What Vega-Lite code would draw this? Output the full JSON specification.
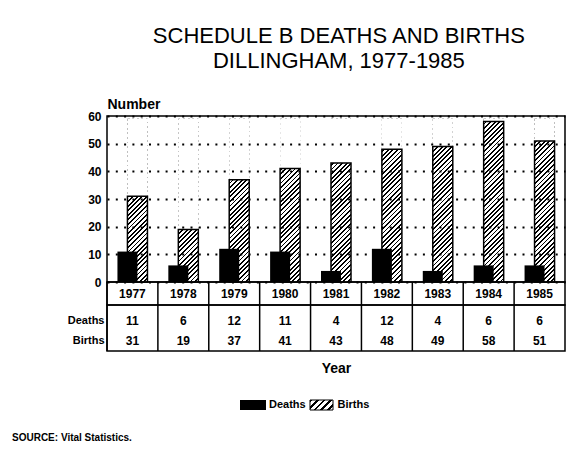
{
  "$schema": "https://vega.github.io/schema/vega-lite/v6.json",
  "padding": {"left": 12, "top": 25, "right": 5, "bottom": 5},
  "background": "white",
  "title": {
    "text": ["SCHEDULE B DEATHS AND BIRTHS", "DILLINGHAM, 1977-1985"],
    "fontSize": 22,
    "fontWeight": "normal",
    "lineHeight": 25,
    "offset": 23,
    "anchor": "middle",
    "dx": 50,
    "color": "black",
    "font": "Liberation Sans"
  },
  "datasets": {
    "main": [
      {"year": "1977", "deaths": 11, "births": 31},
      {"year": "1978", "deaths": 6, "births": 19},
      {"year": "1979", "deaths": 12, "births": 37},
      {"year": "1980", "deaths": 11, "births": 41},
      {"year": "1981", "deaths": 4, "births": 43},
      {"year": "1982", "deaths": 12, "births": 48},
      {"year": "1983", "deaths": 4, "births": 49},
      {"year": "1984", "deaths": 6, "births": 58},
      {"year": "1985", "deaths": 6, "births": 51}
    ],
    "legend": [
      {"series": "Deaths"},
      {"series": "Births"}
    ]
  },
  "spacing": 23,
  "vconcat": [
    {
      "spacing": 0,
      "bounds": "flush",
      "vconcat": [
        {
          "width": 458,
          "height": 166,
          "data": {"name": "main"},
          "encoding": {
            "x": {"field": "year", "type": "ordinal", "scale": {"paddingInner": 0, "paddingOuter": 0}, "axis": null}
          },
          "layer": [
            {
              "mark": {
                "type": "bar", "width": 20, "xOffset": 5, "strokeWidth": 0,
                "fill": {
                  "gradient": "linear", "x1": 0, "y1": 0, "x2": 0.13547, "y2": 1.1058,
                  "stops": [
                    {"offset":0,"color":"#000"},{"offset":0.01,"color":"#000"},{"offset":0.01,"color":"#fff"},{"offset":0.025,"color":"#fff"},
                    {"offset":0.025,"color":"#000"},{"offset":0.035,"color":"#000"},{"offset":0.035,"color":"#fff"},{"offset":0.05,"color":"#fff"},
                    {"offset":0.05,"color":"#000"},{"offset":0.06,"color":"#000"},{"offset":0.06,"color":"#fff"},{"offset":0.075,"color":"#fff"},
                    {"offset":0.075,"color":"#000"},{"offset":0.085,"color":"#000"},{"offset":0.085,"color":"#fff"},{"offset":0.1,"color":"#fff"},
                    {"offset":0.1,"color":"#000"},{"offset":0.11,"color":"#000"},{"offset":0.11,"color":"#fff"},{"offset":0.125,"color":"#fff"},
                    {"offset":0.125,"color":"#000"},{"offset":0.135,"color":"#000"},{"offset":0.135,"color":"#fff"},{"offset":0.15,"color":"#fff"},
                    {"offset":0.15,"color":"#000"},{"offset":0.16,"color":"#000"},{"offset":0.16,"color":"#fff"},{"offset":0.175,"color":"#fff"},
                    {"offset":0.175,"color":"#000"},{"offset":0.185,"color":"#000"},{"offset":0.185,"color":"#fff"},{"offset":0.2,"color":"#fff"},
                    {"offset":0.2,"color":"#000"},{"offset":0.21,"color":"#000"},{"offset":0.21,"color":"#fff"},{"offset":0.225,"color":"#fff"},
                    {"offset":0.225,"color":"#000"},{"offset":0.235,"color":"#000"},{"offset":0.235,"color":"#fff"},{"offset":0.25,"color":"#fff"},
                    {"offset":0.25,"color":"#000"},{"offset":0.26,"color":"#000"},{"offset":0.26,"color":"#fff"},{"offset":0.275,"color":"#fff"},
                    {"offset":0.275,"color":"#000"},{"offset":0.285,"color":"#000"},{"offset":0.285,"color":"#fff"},{"offset":0.3,"color":"#fff"},
                    {"offset":0.3,"color":"#000"},{"offset":0.31,"color":"#000"},{"offset":0.31,"color":"#fff"},{"offset":0.325,"color":"#fff"},
                    {"offset":0.325,"color":"#000"},{"offset":0.335,"color":"#000"},{"offset":0.335,"color":"#fff"},{"offset":0.35,"color":"#fff"},
                    {"offset":0.35,"color":"#000"},{"offset":0.36,"color":"#000"},{"offset":0.36,"color":"#fff"},{"offset":0.375,"color":"#fff"},
                    {"offset":0.375,"color":"#000"},{"offset":0.385,"color":"#000"},{"offset":0.385,"color":"#fff"},{"offset":0.4,"color":"#fff"},
                    {"offset":0.4,"color":"#000"},{"offset":0.41,"color":"#000"},{"offset":0.41,"color":"#fff"},{"offset":0.425,"color":"#fff"},
                    {"offset":0.425,"color":"#000"},{"offset":0.435,"color":"#000"},{"offset":0.435,"color":"#fff"},{"offset":0.45,"color":"#fff"},
                    {"offset":0.45,"color":"#000"},{"offset":0.46,"color":"#000"},{"offset":0.46,"color":"#fff"},{"offset":0.475,"color":"#fff"},
                    {"offset":0.475,"color":"#000"},{"offset":0.485,"color":"#000"},{"offset":0.485,"color":"#fff"},{"offset":0.5,"color":"#fff"},
                    {"offset":0.5,"color":"#000"},{"offset":0.51,"color":"#000"},{"offset":0.51,"color":"#fff"},{"offset":0.525,"color":"#fff"},
                    {"offset":0.525,"color":"#000"},{"offset":0.535,"color":"#000"},{"offset":0.535,"color":"#fff"},{"offset":0.55,"color":"#fff"},
                    {"offset":0.55,"color":"#000"},{"offset":0.56,"color":"#000"},{"offset":0.56,"color":"#fff"},{"offset":0.575,"color":"#fff"},
                    {"offset":0.575,"color":"#000"},{"offset":0.585,"color":"#000"},{"offset":0.585,"color":"#fff"},{"offset":0.6,"color":"#fff"},
                    {"offset":0.6,"color":"#000"},{"offset":0.61,"color":"#000"},{"offset":0.61,"color":"#fff"},{"offset":0.625,"color":"#fff"},
                    {"offset":0.625,"color":"#000"},{"offset":0.635,"color":"#000"},{"offset":0.635,"color":"#fff"},{"offset":0.65,"color":"#fff"},
                    {"offset":0.65,"color":"#000"},{"offset":0.66,"color":"#000"},{"offset":0.66,"color":"#fff"},{"offset":0.675,"color":"#fff"},
                    {"offset":0.675,"color":"#000"},{"offset":0.685,"color":"#000"},{"offset":0.685,"color":"#fff"},{"offset":0.7,"color":"#fff"},
                    {"offset":0.7,"color":"#000"},{"offset":0.71,"color":"#000"},{"offset":0.71,"color":"#fff"},{"offset":0.725,"color":"#fff"},
                    {"offset":0.725,"color":"#000"},{"offset":0.735,"color":"#000"},{"offset":0.735,"color":"#fff"},{"offset":0.75,"color":"#fff"},
                    {"offset":0.75,"color":"#000"},{"offset":0.76,"color":"#000"},{"offset":0.76,"color":"#fff"},{"offset":0.775,"color":"#fff"},
                    {"offset":0.775,"color":"#000"},{"offset":0.785,"color":"#000"},{"offset":0.785,"color":"#fff"},{"offset":0.8,"color":"#fff"},
                    {"offset":0.8,"color":"#000"},{"offset":0.81,"color":"#000"},{"offset":0.81,"color":"#fff"},{"offset":0.825,"color":"#fff"},
                    {"offset":0.825,"color":"#000"},{"offset":0.835,"color":"#000"},{"offset":0.835,"color":"#fff"},{"offset":0.85,"color":"#fff"},
                    {"offset":0.85,"color":"#000"},{"offset":0.86,"color":"#000"},{"offset":0.86,"color":"#fff"},{"offset":0.875,"color":"#fff"},
                    {"offset":0.875,"color":"#000"},{"offset":0.885,"color":"#000"},{"offset":0.885,"color":"#fff"},{"offset":0.9,"color":"#fff"},
                    {"offset":0.9,"color":"#000"},{"offset":0.91,"color":"#000"},{"offset":0.91,"color":"#fff"},{"offset":0.925,"color":"#fff"},
                    {"offset":0.925,"color":"#000"},{"offset":0.935,"color":"#000"},{"offset":0.935,"color":"#fff"},{"offset":0.95,"color":"#fff"},
                    {"offset":0.95,"color":"#000"},{"offset":0.96,"color":"#000"},{"offset":0.96,"color":"#fff"},{"offset":0.975,"color":"#fff"},
                    {"offset":0.975,"color":"#000"},{"offset":0.985,"color":"#000"},{"offset":0.985,"color":"#fff"},{"offset":1,"color":"#fff"}
                  ]
                }
              },
              "encoding": {
                "y": {
                  "datum": 0, "type": "quantitative", "title": "Number",
                  "scale": {"domain": [0, 60], "nice": false, "zero": true},
                  "axis": {
                    "values": [0, 10, 20, 30, 40, 50, 60], "tickCount": 7, "labelOverlap": false,
                    "grid": true, "gridColor": "black", "gridDash": [2, 6.3], "gridWidth": 2,
                    "ticks": false, "domain": false,
                    "labelFontSize": 12, "labelFontWeight": "bold", "labelPadding": 6, "labelColor": "black",
                    "titleAngle": 0, "titleAlign": "left", "titleX": 0, "titleY": -8, "titleBaseline": "alphabetic",
                    "titleFontSize": 14, "titleFontWeight": "bold", "titleColor": "black",
                    "zindex": 1
                  }
                },
                "y2": {"datum": 59}
              }
            },
            {
              "mark": {"type": "bar", "width": 20, "xOffset": 5, "fill": "white", "strokeWidth": 0},
              "encoding": {
                "y": {
                  "field": "births", "type": "quantitative", "title": "Number",
                  "axis": {
                    "values": [0, 10, 20, 30, 40, 50, 60], "tickCount": 7, "labelOverlap": false,
                    "grid": true, "gridColor": "black", "gridDash": [2, 6.3], "gridWidth": 2,
                    "ticks": false, "domain": false,
                    "labelFontSize": 12, "labelFontWeight": "bold", "labelPadding": 6, "labelColor": "black",
                    "titleAngle": 0, "titleAlign": "left", "titleX": 0, "titleY": -8, "titleBaseline": "alphabetic",
                    "titleFontSize": 14, "titleFontWeight": "bold", "titleColor": "black",
                    "zindex": 1
                  }
                },
                "y2": {"datum": 59}
              }
            },
            {
              "mark": {"type": "bar", "width": 20, "xOffset": 5, "filled": false, "color": "black", "strokeWidth": 1.5},
              "encoding": {
                "y": {
                  "field": "births", "type": "quantitative", "title": "Number",
                  "axis": {
                    "values": [0, 10, 20, 30, 40, 50, 60], "tickCount": 7, "labelOverlap": false,
                    "grid": true, "gridColor": "black", "gridDash": [2, 6.3], "gridWidth": 2,
                    "ticks": false, "domain": false,
                    "labelFontSize": 12, "labelFontWeight": "bold", "labelPadding": 6, "labelColor": "black",
                    "titleAngle": 0, "titleAlign": "left", "titleX": 0, "titleY": -8, "titleBaseline": "alphabetic",
                    "titleFontSize": 14, "titleFontWeight": "bold", "titleColor": "black",
                    "zindex": 1
                  }
                }
              }
            },
            {
              "mark": {"type": "bar", "width": 20, "xOffset": -5, "color": "black"},
              "encoding": {
                "y": {
                  "field": "deaths", "type": "quantitative", "title": "Number",
                  "axis": {
                    "values": [0, 10, 20, 30, 40, 50, 60], "tickCount": 7, "labelOverlap": false,
                    "grid": true, "gridColor": "black", "gridDash": [2, 6.3], "gridWidth": 2,
                    "ticks": false, "domain": false,
                    "labelFontSize": 12, "labelFontWeight": "bold", "labelPadding": 6, "labelColor": "black",
                    "titleAngle": 0, "titleAlign": "left", "titleX": 0, "titleY": -8, "titleBaseline": "alphabetic",
                    "titleFontSize": 14, "titleFontWeight": "bold", "titleColor": "black",
                    "zindex": 1
                  }
                }
              }
            }
          ]
        },
        {
          "width": 458,
          "height": 23,
          "data": {"name": "main"},
          "encoding": {
            "x": {"field": "year", "type": "ordinal", "scale": {"paddingInner": 0, "paddingOuter": 0}, "axis": null}
          },
          "layer": [
            {
              "mark": {"type": "rule", "color": "black", "strokeWidth": 1.5},
              "encoding": {"x": {"field": "year", "type": "ordinal", "bandPosition": 0}}
            },
            {
              "mark": {"type": "text", "fontSize": 12, "fontWeight": "bold", "color": "black"},
              "encoding": {"text": {"field": "year"}}
            }
          ]
        },
        {
          "width": 458,
          "height": 46,
          "data": {"name": "main"},
          "encoding": {
            "x": {
              "field": "year", "type": "ordinal", "scale": {"paddingInner": 0, "paddingOuter": 0},
              "axis": {"labels": false, "ticks": false, "domain": false, "grid": false,
                       "title": "Year", "titleFontSize": 14, "titleFontWeight": "bold", "titlePadding": 10, "titleColor": "black"}
            }
          },
          "layer": [
            {
              "mark": {"type": "rule", "color": "black", "strokeWidth": 1.5},
              "encoding": {"x": {"field": "year", "type": "ordinal", "bandPosition": 0}}
            },
            {
              "mark": {"type": "text", "fontSize": 12, "fontWeight": "bold", "color": "black"},
              "encoding": {
                "y": {
                  "datum": "Deaths", "type": "nominal",
                  "scale": {"type": "point", "domain": ["Deaths", "Births"], "padding": 0.65, "align": 0.615},
                  "axis": {"title": null, "ticks": false, "domain": false, "grid": false, "labelFontSize": 11, "labelFontWeight": "bold", "labelPadding": 3, "labelColor": "black"}
                },
                "text": {"field": "deaths"}
              }
            },
            {
              "mark": {"type": "text", "fontSize": 12, "fontWeight": "bold", "color": "black"},
              "encoding": {
                "y": {"datum": "Births", "type": "nominal"},
                "text": {"field": "births"}
              }
            }
          ]
        }
      ]
    },
    {
      "width": 274,
      "height": 10,
      "data": {"name": "legend"},
      "view": {"stroke": null},
      "title": {"text": "SOURCE:  Vital Statistics.", "orient": "bottom", "anchor": "start", "dx": -95, "offset": 22, "fontSize": 10, "fontWeight": "bold", "color": "black"},
      "encoding": {
        "x": {
          "field": "series", "type": "nominal", "sort": ["Deaths", "Births"],
          "scale": {"type": "band", "domain": ["Deaths", "Births"], "paddingInner": 0, "paddingOuter": 1, "align": 0.8157},
          "axis": null
        }
      },
      "layer": [
        {
          "transform": [{"filter": "datum.series === 'Deaths'"}],
          "mark": {"type": "bar", "width": 26, "color": "black"},
          "encoding": {
            "y": {"datum": 0, "type": "quantitative", "scale": {"domain": [0, 1]}, "axis": null},
            "y2": {"datum": 1}
          }
        },
        {
          "transform": [{"filter": "datum.series === 'Births'"}],
          "mark": {
            "type": "bar", "width": 23, "stroke": "black", "strokeWidth": 1,
            "fill": {
              "gradient": "linear", "x1": 0, "y1": 0, "x2": 1.2067, "y2": 0.5247,
              "stops": [
                {"offset":0,"color":"#000"},{"offset":0.08,"color":"#000"},{"offset":0.08,"color":"#fff"},{"offset":0.2,"color":"#fff"},
                {"offset":0.2,"color":"#000"},{"offset":0.28,"color":"#000"},{"offset":0.28,"color":"#fff"},{"offset":0.4,"color":"#fff"},
                {"offset":0.4,"color":"#000"},{"offset":0.48,"color":"#000"},{"offset":0.48,"color":"#fff"},{"offset":0.6,"color":"#fff"},
                {"offset":0.6,"color":"#000"},{"offset":0.68,"color":"#000"},{"offset":0.68,"color":"#fff"},{"offset":0.8,"color":"#fff"},
                {"offset":0.8,"color":"#000"},{"offset":0.88,"color":"#000"},{"offset":0.88,"color":"#fff"},{"offset":1,"color":"#fff"}
              ]
            }
          },
          "encoding": {
            "y": {"datum": 0, "type": "quantitative", "axis": null},
            "y2": {"datum": 1}
          }
        },
        {
          "mark": {"type": "text", "align": "left", "baseline": "middle", "dx": 16, "fontSize": 11, "fontWeight": "bold", "color": "black"},
          "encoding": {
            "y": {"datum": 0.5, "type": "quantitative", "axis": null},
            "text": {"field": "series"}
          }
        }
      ]
    }
  ],
  "config": {
    "font": "Liberation Sans",
    "view": {"stroke": "black", "strokeWidth": 1.5},
    "axis": {"labelFont": "Liberation Sans", "titleFont": "Liberation Sans", "labelColor": "black", "titleColor": "black"},
    "text": {"font": "Liberation Sans"},
    "title": {"font": "Liberation Sans", "color": "black"}
  }
}
